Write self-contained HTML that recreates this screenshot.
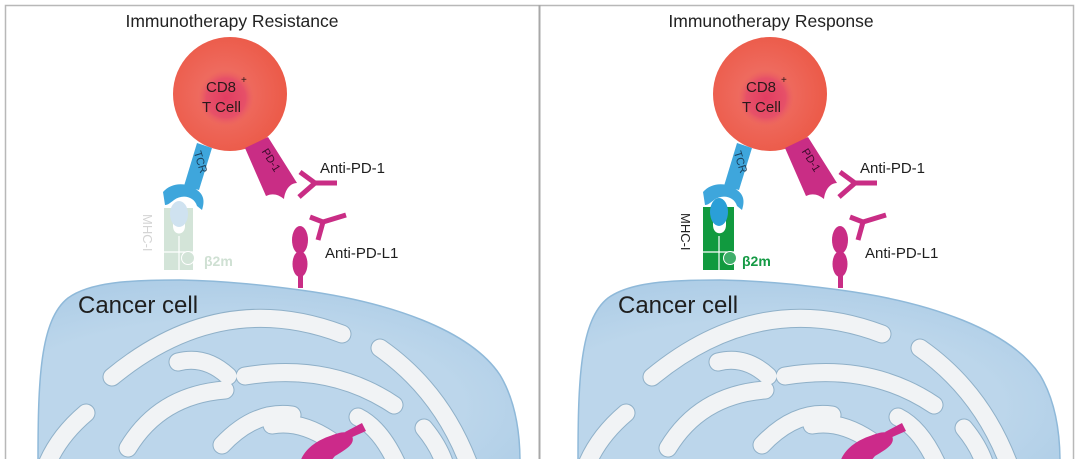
<!DOCTYPE html>
<html><head><meta charset="utf-8"><style>
html,body{margin:0;padding:0;background:#fff;}
svg{display:block;font-family:"Liberation Sans",Arial,sans-serif;}
</style></head><body>
<svg width="1080" height="459" viewBox="0 0 1080 459" xmlns="http://www.w3.org/2000/svg">
<defs>
<radialGradient id="tc" cx="0.45" cy="0.5" r="0.55">
<stop offset="0.4" stop-color="#ee6a5e"/><stop offset="1" stop-color="#ec5a48"/></radialGradient>
<radialGradient id="tci" cx="0.5" cy="0.5" r="0.5">
<stop offset="0" stop-color="#e23d62"/><stop offset="0.7" stop-color="#e65068"/><stop offset="1" stop-color="#ec6062" stop-opacity="0"/></radialGradient>
<radialGradient id="cell" cx="0.4" cy="0.7" r="0.8">
<stop offset="0.6" stop-color="#bcd6eb"/><stop offset="1" stop-color="#a9cae5"/></radialGradient>
<g id="panel">
  <path d="M38,462 C38,380 40,320 68,298 C90,282 130,280 180,280 C230,281 270,286 300,290 C390,302 470,330 500,375 C515,400 520,430 520,462 Z" fill="url(#cell)" stroke="#8fb9d9" stroke-width="1.5"/>
  <g fill="none" stroke-linecap="round">
    <g stroke="#8fb0c8" stroke-width="19">
      <path d="M112,377 Q220,288 342,334"/>
      <path d="M178,362 Q205,355 228,376"/>
      <path d="M245,376 Q330,362 394,405"/>
      <path d="M86,413 Q60,435 48,462"/>
      <path d="M128,448 Q160,395 225,390"/>
      <path d="M222,445 Q255,410 292,415"/>
      <path d="M272,425 Q300,420 330,440"/>
      <path d="M380,348 Q440,390 468,462"/>
      <path d="M424,428 Q438,445 444,462"/>
      <path d="M358,417 Q380,428 396,462"/>
    </g>
    <g stroke="#f1f3f5" stroke-width="17">
      <path d="M112,377 Q220,288 342,334"/>
      <path d="M178,362 Q205,355 228,376"/>
      <path d="M245,376 Q330,362 394,405"/>
      <path d="M86,413 Q60,435 48,462"/>
      <path d="M128,448 Q160,395 225,390"/>
      <path d="M222,445 Q255,410 292,415"/>
      <path d="M272,425 Q300,420 330,440"/>
      <path d="M380,348 Q440,390 468,462"/>
      <path d="M424,428 Q438,445 444,462"/>
      <path d="M358,417 Q380,428 396,462"/>
    </g>
  </g>
  <g fill="#cc2a8a">
    <path d="M345,432 L362,423 L366,431 L350,438 Z"/>
    <path d="M300,462 C305,448 318,440 330,436 C340,432 348,430 352,436 C356,444 345,450 335,456 L330,462 Z"/>
  </g>
  <text x="78" y="313" font-size="24" fill="#1e1e1e">Cancer cell</text>
  <circle cx="230" cy="94" r="57" fill="url(#tc)"/>
  <circle cx="226" cy="98" r="28" fill="url(#tci)"/>
  <text x="206" y="92" font-size="15" fill="#2a1a1a">CD8</text>
  <text x="241" y="83" font-size="10" fill="#2a1a1a">+</text>
  <text x="202" y="112" font-size="15" fill="#2a1a1a">T Cell</text>
  <path d="M197,143 L212,148 L199,190 L184,186 Z" fill="#3ea6dc"/>
  <path d="M163,192 C170,184 182,182 192,187 C202,192 206,198 202,210 L197,206 C194,196 182,194 174,200 C170,203 168,205 165,205 Z" fill="#3ea6dc"/>
  <text transform="translate(197,163) rotate(73)" font-size="11" fill="#1a3e5a" text-anchor="middle">TCR</text>
  <path d="M245,148 L268,137 L297,183 C290,183 285,190 284,199 C278,194 272,193 266,196 Z" fill="#c92d85"/>
  <text transform="translate(268,162) rotate(58)" font-size="11" fill="#3a0a2a" text-anchor="middle">PD-1</text>
  <g stroke="#c92d85" stroke-width="5" fill="none">
    <path d="M300,172 L315,183 L299,197"/><path d="M315,183 L337,183"/>
    <path d="M310,217 L323,222 L318,240"/><path d="M323,222 L346,215"/>
  </g>
  <text x="320" y="173" font-size="15" fill="#1e1e1e">Anti-PD-1</text>
  <text x="325" y="258" font-size="15" fill="#1e1e1e">Anti-PD-L1</text>
  <rect x="298" y="260" width="5" height="28" fill="#c92d85"/>
  <ellipse cx="300" cy="240" rx="8" ry="14" fill="#c92d85"/>
  <ellipse cx="300" cy="264" rx="7.5" ry="13" fill="#c92d85"/>
</g>
</defs>
<rect x="5.5" y="5.5" width="1068" height="460" fill="none" stroke="#b8b8b8" stroke-width="1.5"/>
<line x1="539.5" y1="5" x2="539.5" y2="459" stroke="#a8a8a8" stroke-width="2"/>

<use href="#panel"/>
<text x="232" y="27" font-size="17.5" fill="#222" text-anchor="middle">Immunotherapy Resistance</text>
<g>
  <path d="M164,208 L173,208 L173,226 C173,236 185,236 185,226 L185,208 L193,208 L193,270 L164,270 Z" fill="#d3e4d8"/>
  <ellipse cx="179" cy="214" rx="9" ry="13" fill="#cfe2f0"/>
  <line x1="179" y1="236" x2="179" y2="270" stroke="#fff" stroke-width="1.2"/>
  <line x1="164" y1="252" x2="193" y2="252" stroke="#fff" stroke-width="1.2"/>
  <circle cx="188" cy="258" r="6.5" fill="#d3e4d8" stroke="#fff"/>
  <text x="204" y="266" font-size="14" font-weight="bold" fill="#cfe0d3">β2m</text>
  <text transform="translate(143,214) rotate(90)" font-size="13" fill="#d4d4d4">MHC-I</text>
</g>

<g transform="translate(540,0)"><use href="#panel"/></g>
<text x="771" y="27" font-size="17.5" fill="#222" text-anchor="middle">Immunotherapy Response</text>
<g>
  <path d="M703,207 L713,207 L713,225 C713,236 726,236 726,225 L726,207 L734,207 L734,270 L703,270 Z" fill="#119a3f"/>
  <ellipse cx="719" cy="212" rx="9" ry="14" fill="#2a9fd8"/>
  <line x1="719" y1="236" x2="719" y2="270" stroke="#fff" stroke-width="1.2"/>
  <line x1="703" y1="252" x2="734" y2="252" stroke="#fff" stroke-width="1.2"/>
  <circle cx="730" cy="258" r="6.5" fill="#3fae6a" stroke="#fff"/>
  <text x="742" y="266" font-size="14" font-weight="bold" fill="#159a45">β2m</text>
  <text transform="translate(681,213) rotate(90)" font-size="13" fill="#222">MHC-I</text>
</g>
</svg>
</body></html>
